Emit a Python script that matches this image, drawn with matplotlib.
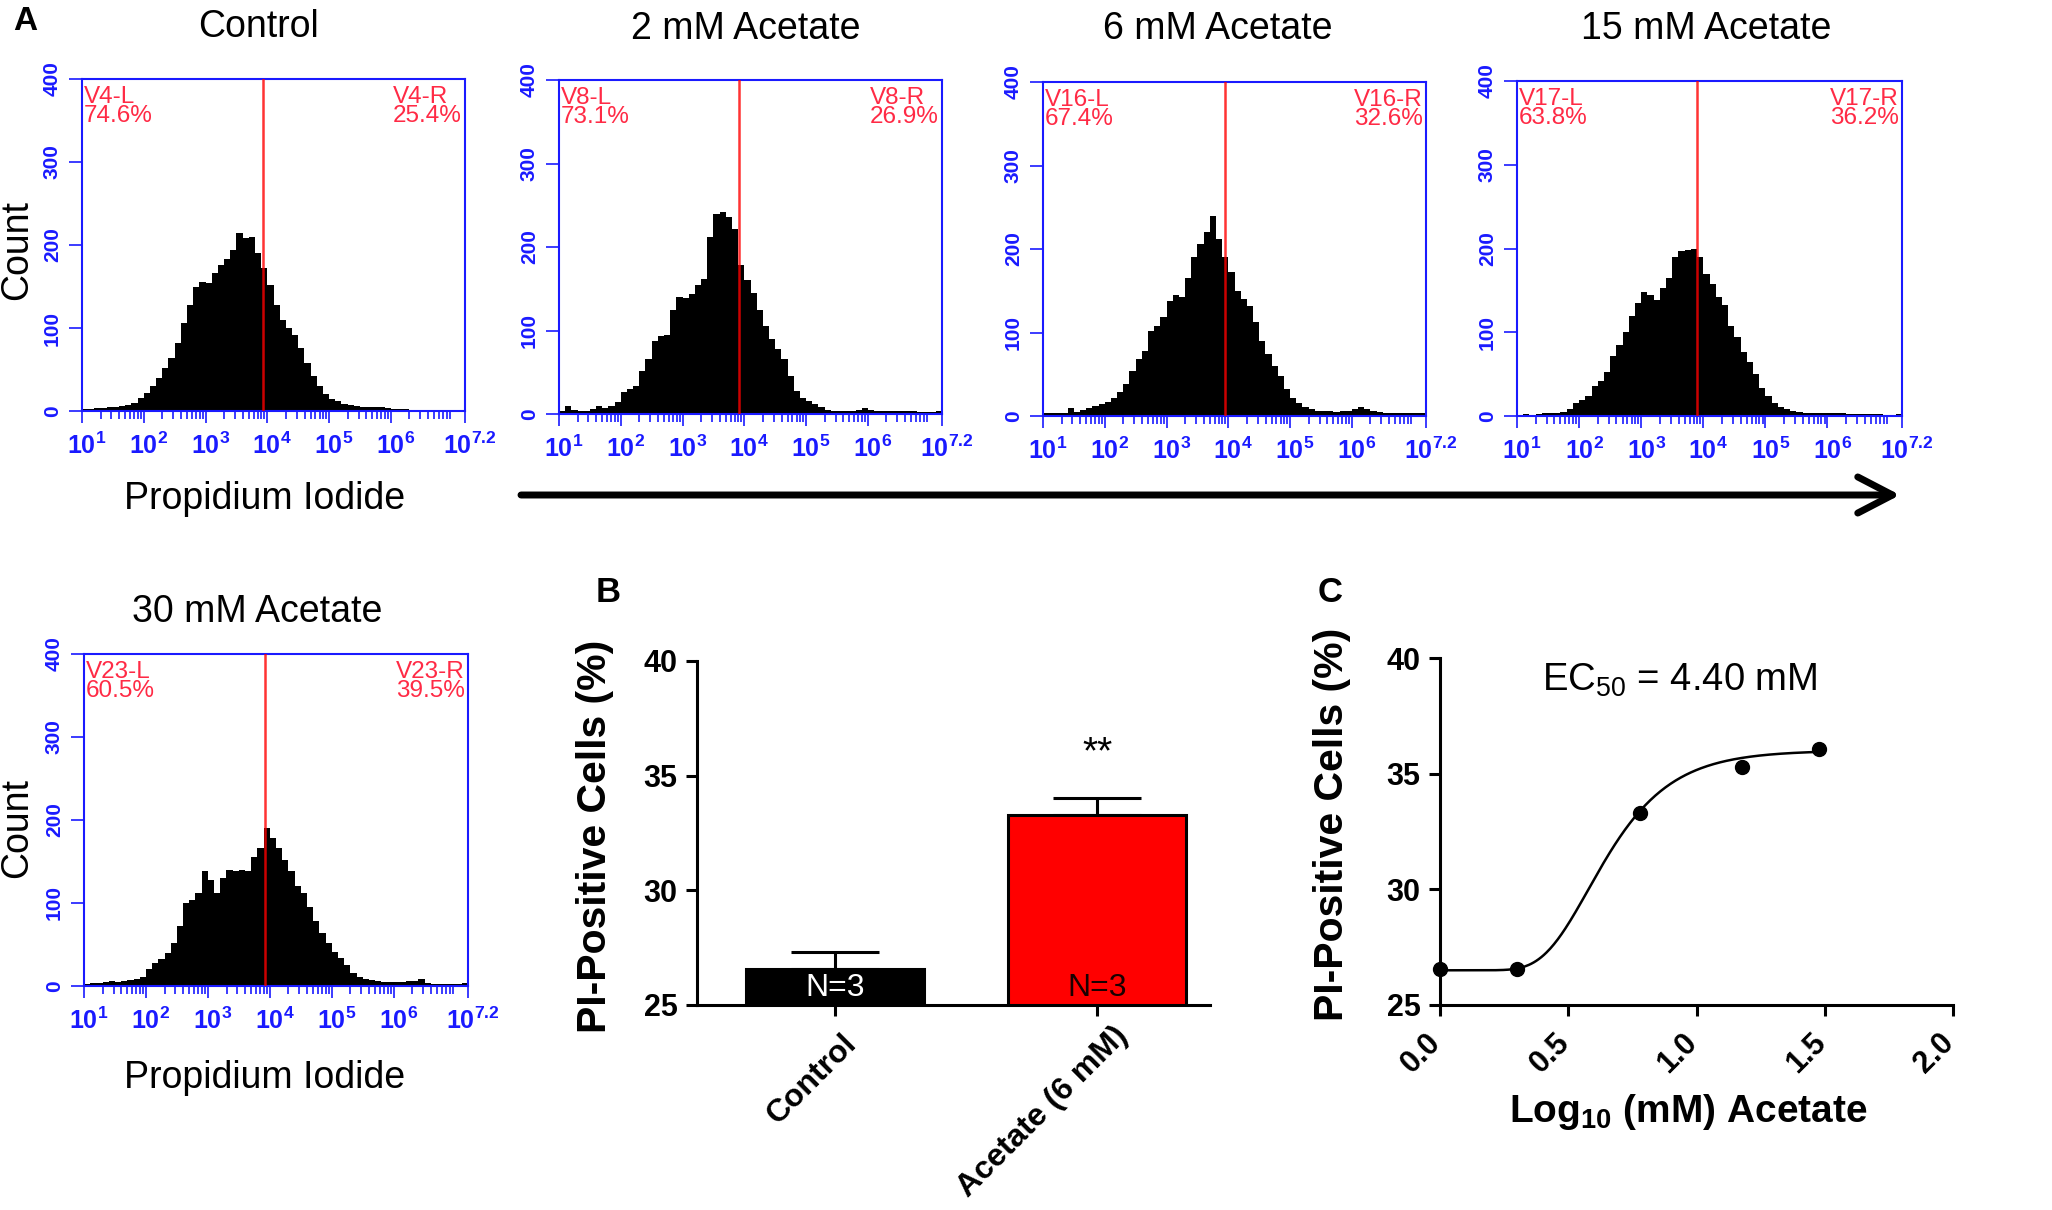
import numpy as np
import matplotlib.pyplot as plt
import matplotlib.transforms as mtransforms
from matplotlib.patches import FancyArrowPatch, ArrowStyle
from matplotlib.ticker import FixedLocator, NullFormatter

plt.rcParams['font.family'] = ['Liberation Sans', 'DejaVu Sans']
plt.rcParams['mathtext.fontset'] = 'custom'
plt.rcParams['mathtext.rm'] = 'Liberation Sans'
plt.rcParams['mathtext.bf'] = 'Liberation Sans:bold'
plt.rcParams['mathtext.it'] = 'Liberation Sans:italic'

# [DATA] ----------------------------------------------------------------------
# flow histograms: counts in 0.1-decade bins from 10^1 to 10^7.2
log_edges = np.round(np.arange(1.0, 7.21, 0.1), 2)

counts_control = [3, 3, 4, 4, 5, 5, 6, 7, 10, 16,
                  22, 30, 40, 52, 64, 82, 106, 128, 150, 156,
                  154, 166, 176, 183, 194, 214, 208, 210, 190, 172,
                  152, 128, 110, 100, 92, 76, 58, 42, 30, 21,
                  15, 12, 9, 7, 6, 5, 5, 5, 5, 4,
                  3, 2, 2, 1, 1, 1, 0, 0, 0, 0, 0, 0]
counts_2mM = [4, 10, 5, 3, 4, 6, 10, 7, 10, 14,
              26, 30, 34, 52, 66, 88, 94, 95, 125, 140,
              139, 144, 155, 162, 212, 240, 242, 236, 222, 178,
              160, 145, 125, 105, 90, 78, 66, 46, 28, 19,
              15, 12, 8, 5, 4, 4, 4, 4, 5, 7,
              5, 4, 4, 3, 3, 3, 3, 3, 2, 2, 2, 3]
counts_6mM = [4, 3, 4, 4, 9, 5, 7, 9, 12, 14,
              17, 22, 29, 38, 54, 68, 78, 102, 108, 118,
              138, 145, 142, 165, 190, 206, 220, 240, 212, 190,
              172, 150, 140, 132, 112, 90, 74, 60, 48, 32,
              22, 16, 11, 8, 6, 6, 6, 5, 6, 6,
              8, 11, 8, 6, 5, 4, 4, 4, 3, 3, 3, 4]
counts_15mM = [1, 2, 1, 2, 3, 3, 4, 5, 8, 15,
               19, 24, 36, 42, 52, 72, 85, 100, 120, 135,
               148, 145, 138, 153, 165, 190, 197, 198, 200, 190,
               170, 158, 142, 132, 108, 94, 76, 64, 50, 34,
               24, 16, 11, 8, 6, 5, 4, 4, 4, 3,
               3, 3, 3, 2, 2, 2, 2, 2, 2, 1, 1, 2]
counts_30mM = [3, 4, 4, 5, 6, 5, 6, 7, 8, 11,
               20, 28, 33, 40, 52, 72, 100, 104, 112, 138,
               128, 112, 130, 140, 138, 140, 138, 155, 166, 190,
               178, 166, 152, 138, 120, 112, 95, 78, 64, 52,
               41, 34, 25, 16, 11, 8, 7, 6, 5, 5,
               5, 5, 6, 6, 8, 4, 2, 2, 2, 2, 2, 4]

hist_counts = [counts_control, counts_2mM, counts_6mM, counts_15mM, counts_30mM]
hist_titles = ['Control', '2 mM Acetate', '6 mM Acetate', '15 mM Acetate', '30 mM Acetate']
gate_names = ['V4', 'V8', 'V16', 'V17', 'V23']
gate_left_pct = ['74.6%', '73.1%', '67.4%', '63.8%', '60.5%']
gate_right_pct = ['25.4%', '26.9%', '32.6%', '36.2%', '39.5%']
gate_log_pos = [3.93, 3.92, 3.94, 3.90, 3.93]

hist_xtick_exp = [1, 2, 3, 4, 5, 6, 7.2]
hist_xtick_labels = ['1', '2', '3', '4', '5', '6', '7.2']
hist_yticks = [0, 100, 200, 300, 400]

# panel B
bar_labels = ['Control', 'Acetate (6 mM)']
bar_means = [26.55, 33.3]
bar_sem = [0.75, 0.72]
bar_n = ['N=3', 'N=3']
sig_label = '**'

# panel C: data points and fitted curve parameters
log_conc = [0.0, 0.301, 0.778, 1.176, 1.477]
pi_positive = [26.55, 26.55, 33.3, 35.3, 36.05]
fit_bottom = 26.5
fit_top = 36.0
fit_ec50_mM = 4.40
fit_rate = 5.64

# [LAYOUT] --------------------------------------------------------------------
W, H = 2052, 1210
fig = plt.figure(figsize=(W / 100, H / 100), dpi=100)


def px_axes(left, top, right, bottom):
    return fig.add_axes([left / W, 1 - bottom / H, (right - left) / W, (bottom - top) / H])


def fig_text(x, y, s, **kw):
    return fig.text(x / W, 1 - y / H, s, **kw)


def shift(lbl, dx, dy):
    # move a tick label by (dx, dy) pixels
    lbl.set_transform(lbl.get_transform()
                      + mtransforms.ScaledTranslation(dx / 100, dy / 100, fig.dpi_scale_trans))


BLUE = '#1a1aff'
GATE_RED = '#ff2a45'

hist_boxes = [(82, 79, 465, 411), (559, 80, 942, 414), (1043, 82, 1426, 416),
              (1517, 81, 1902, 416), (84, 654, 468, 986)]
title_pos = [(259, 27), (746, 29), (1218, 29), (1706, 29), (257, 612)]

for i, box in enumerate(hist_boxes):
    ax = px_axes(*box)
    ax.stairs(hist_counts[i], 10 ** log_edges, fill=True, color='black', lw=0, zorder=2)
    ax.axvline(10 ** gate_log_pos[i], color='#ff0000', lw=1.8, alpha=0.8, zorder=3)
    ax.set_xscale('log')
    ax.set_xlim(10, 10 ** 7.2)
    ax.set_ylim(0, 400)

    ax.xaxis.set_major_locator(FixedLocator([10.0 ** e for e in hist_xtick_exp]))
    ax.xaxis.set_minor_locator(FixedLocator([m * 10.0 ** k for k in range(1, 7) for m in range(2, 10)]))
    ax.xaxis.set_minor_formatter(NullFormatter())
    ax.set_xticklabels([r'$\mathbf{10^{%s}}$' % s for s in hist_xtick_labels])
    ax.set_yticks(hist_yticks)
    ax.set_yticklabels([str(v) for v in hist_yticks], rotation=90, va='center',
                       fontweight='bold')

    ax.tick_params(axis='x', which='major', direction='out', length=8.5, width=1.2,
                   colors=BLUE, labelsize=18, pad=7)
    ax.tick_params(axis='x', which='minor', direction='out', length=6, width=1.2, colors=BLUE)
    ax.tick_params(axis='y', direction='out', length=9.5, width=1.2, colors=BLUE,
                   labelsize=15, pad=5)
    for lbl in ax.get_xticklabels():
        shift(lbl, 5, 0)
    for sp in ax.spines.values():
        sp.set_color(BLUE)
        sp.set_linewidth(1.5)

    ax.text(0.004, 0.978, f'{gate_names[i]}-L\n{gate_left_pct[i]}', transform=ax.transAxes,
            ha='left', va='top', color=GATE_RED, fontsize=17.5, linespacing=0.82)
    ax.text(0.992, 0.978, f'{gate_names[i]}-R\n{gate_right_pct[i]}', transform=ax.transAxes,
            ha='right', va='top', multialignment='left', color=GATE_RED, fontsize=17.5,
            linespacing=0.82)

    fig_text(*title_pos[i], hist_titles[i], ha='center', va='center', fontsize=27)

# axis titles for the first column of histograms
for cy, ly in [(250, 499), (828, 1078)]:
    fig_text(17, cy, 'Count', rotation=90, ha='center', va='center', fontsize=27)
    fig_text(265, ly, 'Propidium Iodide', ha='center', va='center', fontsize=27)

# increasing-dose arrow
arrow = FancyArrowPatch((521 / W, 1 - 495 / H), (1900 / W, 1 - 495 / H),
                        transform=fig.transFigure,
                        arrowstyle=ArrowStyle('->', head_length=25, head_width=13),
                        mutation_scale=1, lw=5, color='black', shrinkA=0, shrinkB=0,
                        capstyle='round', joinstyle='round')
fig.add_artist(arrow)

# panel letters
fig_text(25, 22, 'A', ha='center', va='center', fontsize=24, fontweight='bold')
fig_text(608, 592, 'B', ha='center', va='center', fontsize=25, fontweight='bold')
fig_text(1330, 592, 'C', ha='center', va='center', fontsize=25, fontweight='bold')


def style_prism(ax):
    for side in ['top', 'right']:
        ax.spines[side].set_visible(False)
    for side in ['left', 'bottom']:
        ax.spines[side].set_linewidth(2.2)
    ax.tick_params(direction='out', length=8, width=2.2, labelsize=22, pad=6)
    for lbl in ax.get_xticklabels() + ax.get_yticklabels():
        lbl.set_fontweight('bold')


# [PANEL B] -------------------------------------------------------------------
axB = px_axes(697, 661, 1210, 1005)
xb = np.arange(len(bar_means))
axB.bar(xb, np.array(bar_means) - 25, bottom=25, width=0.68, color=['black', '#ff0000'],
        edgecolor='black', linewidth=2.2, zorder=3)
axB.errorbar(xb, bar_means, yerr=[[0, 0], bar_sem], fmt='none', ecolor='black',
             elinewidth=2.2, capsize=32, capthick=2.2, zorder=2)
axB.set_xlim(-0.527, 1.431)
axB.set_ylim(25, 40)
axB.set_yticks([25, 30, 35, 40])
axB.set_xticks(xb)
axB.set_xticklabels(bar_labels, rotation=45, ha='right', va='top', rotation_mode='anchor')
style_prism(axB)
for lbl, (dx, dy) in zip(axB.get_xticklabels(), [(7, -4), (16, 4)]):
    shift(lbl, dx, dy)
    lbl.set_fontsize(23)
for i, n in enumerate(bar_n):
    axB.text(xb[i], 25.75, n, ha='center', va='center', fontsize=23,
             color='white' if i == 0 else '#1a0000', zorder=4)
axB.text(xb[1], 35.52, sig_label, ha='center', va='baseline', fontsize=28)
fig_text(595, 836, 'PI-Positive Cells (%)', rotation=90, ha='center', va='center',
         fontsize=29.5, fontweight='bold')

# [PANEL C] -------------------------------------------------------------------
axC = px_axes(1440, 658, 1953, 1005)
# fitted curve (Gompertz-type rise) whose half-maximum sits at the EC50
fit_shift = np.log10(fit_ec50_mM) + np.log(np.log(2)) / fit_rate
xfit = np.linspace(log_conc[0], log_conc[-1], 300)
yfit = fit_bottom + (fit_top - fit_bottom) * np.exp(-np.exp(-fit_rate * (xfit - fit_shift)))
axC.plot(xfit, yfit, color='black', lw=1.8)
axC.plot(log_conc, pi_positive, 'o', color='black', ms=10, clip_on=False, zorder=4)
axC.set_xlim(0, 2)
axC.set_ylim(25, 40)
axC.set_xticks([0, 0.5, 1.0, 1.5, 2.0])
axC.set_xticklabels(['0.0', '0.5', '1.0', '1.5', '2.0'], rotation=45, ha='right', va='top',
                    rotation_mode='anchor')
axC.set_yticks([25, 30, 35, 40])
style_prism(axC)
for lbl in axC.get_xticklabels():
    shift(lbl, -14, -3)
fig_text(1680, 680, r'EC$_{50}$ = 4.40 mM', ha='center', va='center', fontsize=27.5)
fig_text(1332, 824, 'PI-Positive Cells (%)', rotation=90, ha='center', va='center',
         fontsize=29.5, fontweight='bold')
fig_text(1688, 1112, r'Log$_{\mathbf{10}}$ (mM) Acetate', ha='center', va='center',
         fontsize=28, fontweight='bold')

fig.savefig('out.png', dpi=100, facecolor='white')
